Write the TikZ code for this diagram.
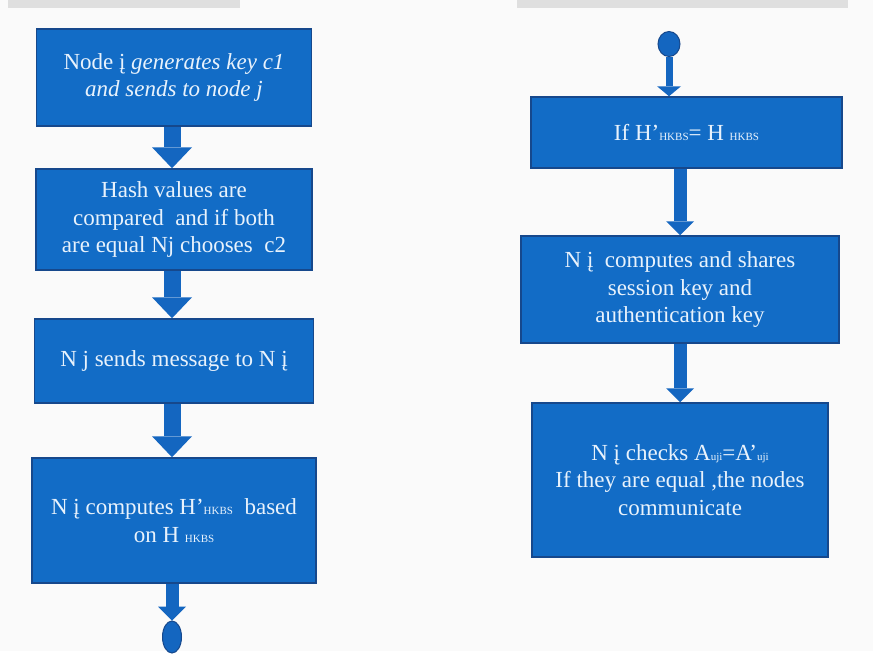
\documentclass[tikz,border=0pt]{standalone}
\usepackage{fontspec}
\setmainfont{Liberation Serif}
\usetikzlibrary{arrows.meta, positioning, shapes.geometric}
\definecolor{boxblue}{RGB}{18,108,198}
\definecolor{edgeblue}{RGB}{22,72,140}
\definecolor{arrowblue}{RGB}{20,102,192}
\definecolor{textwhite}{RGB}{232,242,252}
\newcommand{\sub}[1]{{\fontsize{11}{11}\selectfont #1}}

\begin{document}
\begin{tikzpicture}[x=1pt, y=-1pt,
    box/.style={rectangle, draw=edgeblue, line width=1.5pt, fill=boxblue, text=textwhite,
        align=center, inner sep=0pt, font=\fontsize{23}{27.5}\selectfont},
    bigarrow/.style={draw=arrowblue, line width=17pt, -{Triangle[width=40pt, length=21pt, line width=0pt 0 0]}},
    smallarrow/.style={draw=arrowblue, line width=13pt, -{Triangle[width=28pt, length=14pt, line width=0pt 0 0]}},
    thinarrow/.style={draw=arrowblue, line width=7pt, -{Triangle[width=24pt, length=10pt, line width=0pt 0 0]}},
    blob/.style={ellipse, draw=edgeblue, line width=1pt, fill=arrowblue, inner sep=0pt}]
    \fill[white!98!black] (0,0) rectangle (873,651);
    \fill[gray!25] (8,0) rectangle (240,8);
    \fill[gray!25] (517,0) rectangle (848,8);

    \node[box, minimum width=275pt, minimum height=97pt] (b1) at (174, 77.5)
        {Node į \textit{generates key c1}\\ \textit{and sends to node j}};
    \node[box, minimum width=276pt, minimum height=101pt] (b2) at (174, 219.5)
        {Hash values are\\ compared \ and if both\\ are equal Nj chooses \ c2};
    \node[box, minimum width=279pt, minimum height=84pt] (b3) at (174, 361)
        {N j sends message to N į};
    \node[box, minimum width=284pt, minimum height=125pt] (b4) at (174, 520.5)
        {N į computes H'\sub{HKBS} \ based\\ on H \sub{HKBS}};
    \node[blob, minimum width=19pt, minimum height=32pt] (stop) at (172, 637) {};

    \node[blob, minimum width=22pt, minimum height=25pt] (start) at (669, 44) {};
    \node[box, minimum width=311pt, minimum height=71pt] (b5) at (686.5, 132.5)
        {If H'\sub{HKBS}= H \sub{HKBS}};
    \node[box, minimum width=318pt, minimum height=107pt] (b6) at (680, 289.5)
        {N į \ computes and shares\\ session key and\\ authentication key};
    \node[box, minimum width=296pt, minimum height=154pt] (b7) at (680, 480)
        {N į checks A\sub{uji}=A'\sub{uji}\\ If they are equal ,the nodes\\ communicate};

    \draw[bigarrow] (b1.south -| 172,0) -- (b2.north -| 172,0);
    \draw[bigarrow] (b2.south -| 172,0) -- (b3.north -| 172,0);
    \draw[bigarrow] (b3.south -| 172,0) -- (b4.north -| 172,0);
    \draw[smallarrow] (b4.south -| stop) -- (stop.north);
    \draw[thinarrow] (start.south) -- (start.south |- b5.north);
    \draw[smallarrow] (b5.south -| b6) -- (b6.north);
    \draw[smallarrow] (b6.south) -- (b7.north);
\end{tikzpicture}
\end{document}
